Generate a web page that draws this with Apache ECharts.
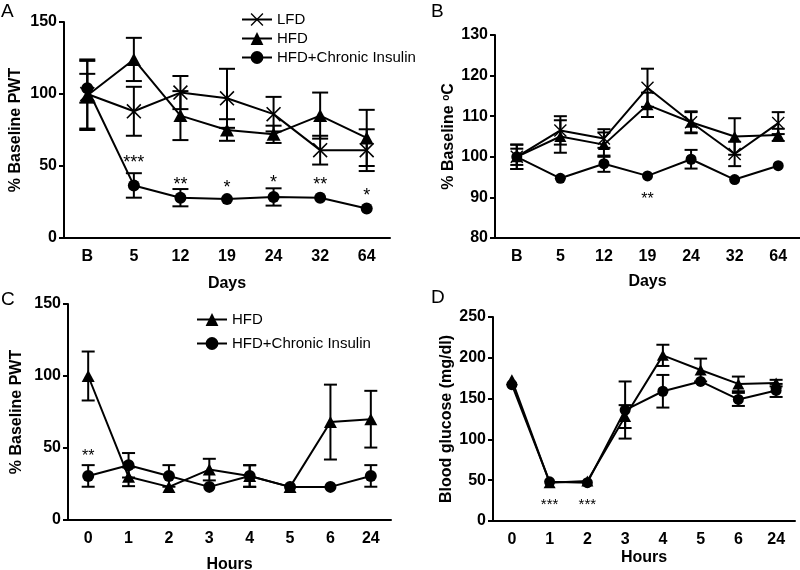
<!DOCTYPE html>
<html><head><meta charset="utf-8">
<script src="https://cdn.jsdelivr.net/npm/echarts@6/dist/echarts.min.js"></script>
<style>html,body{margin:0;padding:0;background:#fff}#c{width:800px;height:570px}</style>
</head><body><div id="c"></div>
<script>
// ---- data ----
const daysCats = ['B', '5', '12', '19', '24', '32', '64'];
const hoursCats = ['0', '1', '2', '3', '4', '5', '6', '24'];

// Panel A: % Baseline PWT vs days
const aLFD = [100, 88, 101, 97, 86, 61, 61];
const aLFDerr = [24, 17, 11.5, 20.5, 12, 10, 14.5];
const aHFD = [99, 124, 85, 75, 72, 85, 69.5];
const aHFDerr = [24, 15, 17, 7.5, 6, 16, 19.5];
const aINS = [104, 36.5, 28, 27, 28.5, 28, 20.5];
const aINSerr = [10, 8.5, 6, 0, 6, 0, 0];
const aStars = ['', '***', '**', '*', '*', '**', '*'];
const aStarY = [0, 52, 37, 35, 38, 37, 29];

// Panel B: % Baseline oC vs days
const bLFD = [100, 106.5, 104.5, 117, 108.5, 100.7, 108.3];
const bLFDerr = [3, 3.5, 2.3, 4.7, 2.7, 3, 2.7];
const bHFD = [100, 105, 103, 112.8, 108.5, 105, 105.4];
const bHFDerr = [3, 4, 3, 3, 2.5, 4.5, 1.5];
const bINS = [100, 94.7, 98.3, 95.3, 99.4, 94.4, 97.8];
const bINSerr = [2, 0, 2, 0, 2.3, 0, 0];
const bStars = ['', '', '', '**', '', '', ''];
const bStarY = [0, 0, 0, 89.5, 0, 0, 0];

// Panel C: % Baseline PWT vs hours
const cHFD = [100, 30, 23, 35, 30.5, 23, 68, 70];
const cHFDerr = [17, 6.5, 0, 7.5, 7.5, 0, 26, 19.7];
const cINS = [30.6, 38, 30.6, 23, 30.6, 23, 23, 30.6];
const cINSerr = [7.5, 8.5, 7.5, 0, 7.5, 0, 0, 7.5];
const cStars = ['**', '', '', '', '', '', '', ''];
const cStarY = [44, 0, 0, 0, 0, 0, 0, 0];

// Panel D: blood glucose vs hours
const dHFD = [173, 47, 49, 128, 203, 185, 168, 169];
const dHFDerr = [0, 0, 0, 14, 13, 14, 9, 4];
const dINS = [167, 48, 47, 136, 159, 171, 149, 160];
const dINSerr = [0, 0, 0, 35, 20, 0, 8, 8];
const dStars = ['', '***', '***', '', '', '', '', ''];
const dStarY = [0, 20, 20, 0, 0, 0, 0, 0];

// ---- styling helpers ----
const FONT = "'Liberation Sans', Arial, sans-serif";
const X_PATH = 'path://M0,1.5L1.5,0L10,8.5L18.5,0L20,1.5L11.5,10L20,18.5L18.5,20L10,11.5L1.5,20L0,18.5L8.5,10Z';
const BLACK = '#000';

function errSeries(gi, vals, errs, capW) {
  return {
    type: 'custom', xAxisIndex: gi, yAxisIndex: gi, z: 2, silent: true, animation: false,
    data: vals.map((v, i) => [i, v, errs[i]]),
    renderItem(params, api) {
      const i = api.value(0), v = api.value(1), e = api.value(2);
      if (!e) return null;
      const top = api.coord([i, v + e]), bot = api.coord([i, v - e]);
      const h = capW / 2;
      const st = { stroke: BLACK, lineWidth: 2 };
      return { type: 'group', children: [
        { type: 'line', shape: { x1: top[0], y1: top[1], x2: bot[0], y2: bot[1] }, style: st },
        { type: 'line', shape: { x1: top[0] - h, y1: top[1], x2: top[0] + h, y2: top[1] }, style: st },
        { type: 'line', shape: { x1: bot[0] - h, y1: bot[1], x2: bot[0] + h, y2: bot[1] }, style: st }
      ]};
    }
  };
}
function lineSeries(gi, name, vals, symbol, size) {
  return {
    type: 'line', name, xAxisIndex: gi, yAxisIndex: gi, data: vals, symbol, symbolSize: size,
    showAllSymbol: true, lineStyle: { color: BLACK, width: 2 }, itemStyle: { color: BLACK, opacity: 1 },
    z: 3, animation: false, silent: true
  };
}
function starSeries(gi, labels, ys, fs) {
  return {
    type: 'custom', xAxisIndex: gi, yAxisIndex: gi, z: 4, silent: true, animation: false,
    data: labels.map((t, i) => [i, ys[i], t]),
    renderItem(params, api) {
      const t = labels[params.dataIndex];
      if (!t) return null;
      const p = api.coord([api.value(0), api.value(1)]);
      return { type: 'text', x: p[0], y: p[1], style: { text: t, fill: BLACK, font: fs + 'px ' + FONT, align: 'center', verticalAlign: 'middle' } };
    }
  };
}
const tickLabel = { color: BLACK, fontWeight: 'bold', fontSize: 16, fontFamily: FONT };
const nameStyle = { color: BLACK, fontWeight: 'bold', fontSize: 16, fontFamily: FONT };
function xAx(gi, cats, name, gap) {
  return {
    type: 'category', gridIndex: gi, data: cats, boundaryGap: true,
    axisLine: { lineStyle: { color: BLACK, width: 2 } },
    axisTick: { alignWithLabel: true, length: 5, lineStyle: { color: BLACK, width: 2 } },
    axisLabel: Object.assign({ margin: 11, interval: 0 }, tickLabel),
    name, nameLocation: 'middle', nameGap: gap, nameTextStyle: nameStyle
  };
}
function yAx(gi, min, max, interval, name, gap, rich) {
  const ns = Object.assign({}, nameStyle);
  if (rich) ns.rich = rich;
  return {
    type: 'value', gridIndex: gi, min, max, interval, splitLine: { show: false },
    axisLine: { show: true, lineStyle: { color: BLACK, width: 2 } },
    axisTick: { show: true, length: 5, lineStyle: { color: BLACK, width: 2 } },
    axisLabel: Object.assign({ margin: 7 }, tickLabel),
    name, nameLocation: 'middle', nameGap: gap, nameTextStyle: ns
  };
}
function legend(names, left, top, gap) {
  return {
    data: names, orient: 'vertical', left, top, itemWidth: 30, itemHeight: 16, itemGap: gap,
    textStyle: { color: BLACK, fontSize: 15, fontFamily: FONT },
    selectedMode: false
  };
}

const option = {
  animation: false,
  backgroundColor: '#fff',
  grid: [
    { left: 64, top: 22, width: 326, height: 216, outerBoundsMode: 'none', containLabel: false },
    { left: 495, top: 35, width: 305, height: 203, outerBoundsMode: 'none', containLabel: false },
    { left: 68, top: 304, width: 323, height: 216, outerBoundsMode: 'none', containLabel: false },
    { left: 493, top: 317, width: 302, height: 204, outerBoundsMode: 'none', containLabel: false }
  ],
  xAxis: [
    xAx(0, daysCats, 'Days', 38),
    xAx(1, daysCats, 'Days', 36),
    xAx(2, hoursCats, 'Hours', 37),
    xAx(3, hoursCats, 'Hours', 29)
  ],
  yAxis: [
    yAx(0, 0, 150, 50, '% Baseline PWT', 40),
    yAx(1, 80, 130, 10, '% Baseline {sup|o}C', 38, { sup: { fontSize: 10, fontWeight: 'bold', fontFamily: FONT, color: BLACK, verticalAlign: 'top', lineHeight: 10 } }),
    yAx(2, 0, 150, 50, '% Baseline PWT', 43),
    yAx(3, 0, 250, 50, 'Blood glucose (mg/dl)', 38)
  ],
  legend: [
    legend(['LFD', 'HFD', 'HFD+Chronic Insulin'], 236, 7, 4),
    legend(['HFD', 'HFD+Chronic Insulin'], 191, 307, 9)
  ],
  graphic: [
    { type: 'text', left: 1, top: 2, style: { text: 'A', font: '19px ' + FONT, fill: BLACK } },
    { type: 'text', left: 431, top: 2, style: { text: 'B', font: '19px ' + FONT, fill: BLACK } },
    { type: 'text', left: 1, top: 290, style: { text: 'C', font: '19px ' + FONT, fill: BLACK } },
    { type: 'text', left: 431, top: 288, style: { text: 'D', font: '19px ' + FONT, fill: BLACK } }
  ],
  series: [
    errSeries(0, aLFD, aLFDerr, 16), errSeries(0, aHFD, aHFDerr, 16), errSeries(0, aINS, aINSerr, 16),
    lineSeries(0, 'LFD', aLFD, X_PATH, 15), lineSeries(0, 'HFD', aHFD, 'triangle', [14, 13]), lineSeries(0, 'HFD+Chronic Insulin', aINS, 'circle', 12),
    starSeries(0, aStars, aStarY, 18),

    errSeries(1, bLFD, bLFDerr, 13), errSeries(1, bHFD, bHFDerr, 13), errSeries(1, bINS, bINSerr, 13),
    lineSeries(1, 'LFD', bLFD, X_PATH, 13), lineSeries(1, 'HFD', bHFD, 'triangle', [12, 11]), lineSeries(1, 'HFD+Chronic Insulin', bINS, 'circle', 11),
    starSeries(1, bStars, bStarY, 16),

    errSeries(2, cHFD, cHFDerr, 13), errSeries(2, cINS, cINSerr, 13),
    lineSeries(2, 'HFD', cHFD, 'triangle', [13, 12]), lineSeries(2, 'HFD+Chronic Insulin', cINS, 'circle', 12),
    starSeries(2, cStars, cStarY, 16),

    errSeries(3, dHFD, dHFDerr, 13), errSeries(3, dINS, dINSerr, 13),
    lineSeries(3, 'HFD', dHFD, 'triangle', [12, 11]), lineSeries(3, 'HFD+Chronic Insulin', dINS, 'circle', 11),
    starSeries(3, dStars, dStarY, 15)
  ]
};
const chart = echarts.init(document.getElementById('c'), null, { renderer: 'canvas' });
chart.setOption(option);
</script>
</body></html>
